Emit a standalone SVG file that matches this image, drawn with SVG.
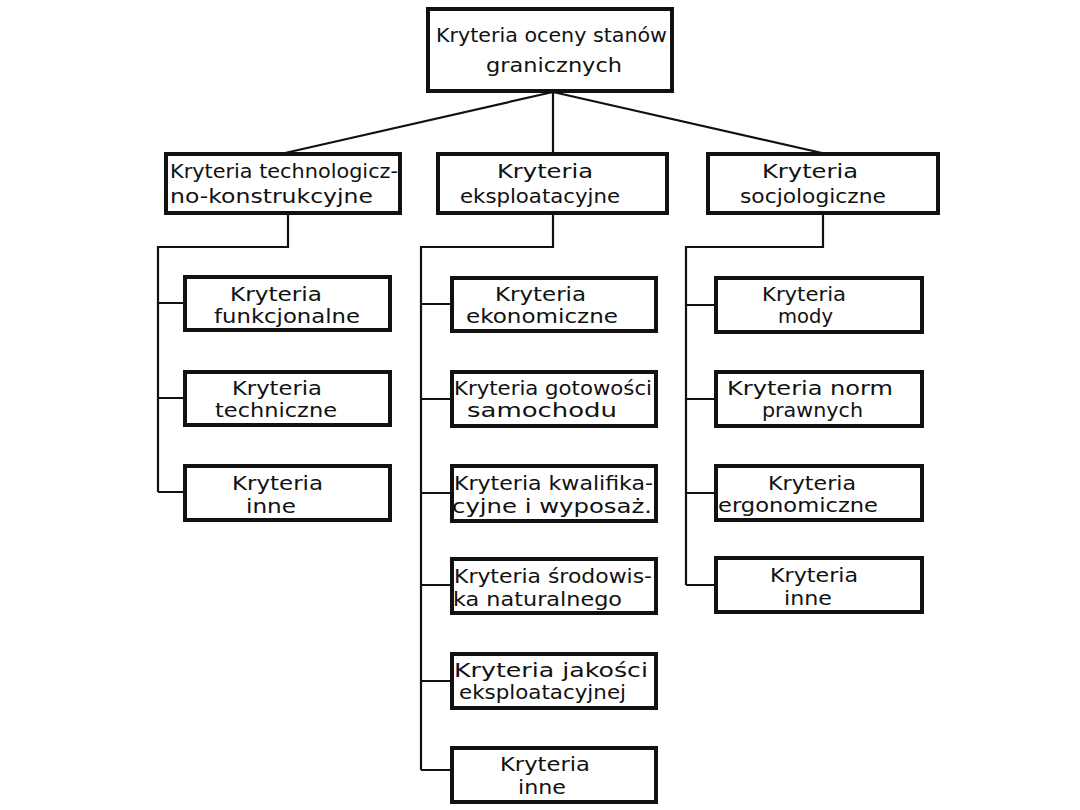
<svg xmlns="http://www.w3.org/2000/svg" width="1080" height="810" viewBox="0 0 1080 810">
<style>
.box{fill:#fff;stroke:#111;stroke-width:4}
.t{font-family:"DejaVu Sans","Liberation Sans",sans-serif;font-size:19px;fill:#111}
.c{fill:none;stroke:#111;stroke-width:2.2}
</style>
<rect width="1080" height="810" fill="#fff"/>
<g id="connectors">
<path class="c" d="M553,92 L285,153 M553,92 L553,153 M553,92 L822,153"/>
<path class="c" d="M288,213 V247 H158 V492 M158,303 H185 M158,398 H185 M158,492 H185"/>
<path class="c" d="M553,213 V247 H421 V770 M421,304 H452 M421,399 H452 M421,493 H452 M421,585 H452 M421,681 H452 M421,770 H452"/>
<path class="c" d="M823,213 V247 H686 V585 M686,305 H716 M686,399 H716 M686,493 H716 M686,585 H716"/>
</g>
<g id="root"><rect class="box" x="428" y="9" width="244" height="82"/>
<text class="t" x="436" y="42" textLength="231" lengthAdjust="spacingAndGlyphs">Kryteria oceny stanów</text><text class="t" x="486" y="72" textLength="136" lengthAdjust="spacingAndGlyphs">granicznych</text></g>
<g id="n-tech"><rect class="box" x="166" y="154" width="234" height="59"/>
<text class="t" x="170" y="178" textLength="228" lengthAdjust="spacingAndGlyphs">Kryteria technologicz-</text><text class="t" x="170" y="203" textLength="203" lengthAdjust="spacingAndGlyphs">no-konstrukcyjne</text></g>
<g id="n-eksp"><rect class="box" x="438" y="154" width="229" height="59"/>
<text class="t" x="497" y="178" textLength="96" lengthAdjust="spacingAndGlyphs">Kryteria</text><text class="t" x="460" y="203" textLength="160" lengthAdjust="spacingAndGlyphs">eksploatacyjne</text></g>
<g id="n-socj"><rect class="box" x="708" y="154" width="230" height="59"/>
<text class="t" x="762" y="178" textLength="96" lengthAdjust="spacingAndGlyphs">Kryteria</text><text class="t" x="740" y="203" textLength="146" lengthAdjust="spacingAndGlyphs">socjologiczne</text></g>

<g id="n-funk"><rect class="box" x="185" y="277" width="205" height="53"/>
<text class="t" x="230" y="301" textLength="92" lengthAdjust="spacingAndGlyphs">Kryteria</text><text class="t" x="214" y="323" textLength="146" lengthAdjust="spacingAndGlyphs">funkcjonalne</text></g>
<g id="n-techn"><rect class="box" x="185" y="372" width="205" height="53"/>
<text class="t" x="232" y="395" textLength="90" lengthAdjust="spacingAndGlyphs">Kryteria</text><text class="t" x="215" y="417" textLength="122" lengthAdjust="spacingAndGlyphs">techniczne</text></g>
<g id="n-inne1"><rect class="box" x="185" y="466" width="205" height="54"/>
<text class="t" x="232" y="490" textLength="91" lengthAdjust="spacingAndGlyphs">Kryteria</text><text class="t" x="246" y="513" textLength="50" lengthAdjust="spacingAndGlyphs">inne</text></g>

<g id="n-ekon"><rect class="box" x="452" y="278" width="204" height="53"/>
<text class="t" x="495" y="301" textLength="91" lengthAdjust="spacingAndGlyphs">Kryteria</text><text class="t" x="466" y="323" textLength="152" lengthAdjust="spacingAndGlyphs">ekonomiczne</text></g>
<g id="n-got"><rect class="box" x="452" y="372" width="204" height="54"/>
<text class="t" x="454" y="395" textLength="198" lengthAdjust="spacingAndGlyphs">Kryteria gotowości</text><text class="t" x="467" y="417" textLength="150" lengthAdjust="spacingAndGlyphs">samochodu</text></g>
<g id="n-kwal"><rect class="box" x="452" y="466" width="204" height="55"/>
<text class="t" x="454" y="490" textLength="199" lengthAdjust="spacingAndGlyphs">Kryteria kwalifika-</text><text class="t" x="452" y="513" textLength="200" lengthAdjust="spacingAndGlyphs">cyjne i wyposaż.</text></g>
<g id="n-srod"><rect class="box" x="452" y="559" width="204" height="54"/>
<text class="t" x="454" y="583" textLength="198" lengthAdjust="spacingAndGlyphs">Kryteria środowis-</text><text class="t" x="453" y="606" textLength="169" lengthAdjust="spacingAndGlyphs">ka naturalnego</text></g>
<g id="n-jak"><rect class="box" x="452" y="654" width="204" height="54"/>
<text class="t" x="454" y="677" textLength="194" lengthAdjust="spacingAndGlyphs">Kryteria  jakości</text><text class="t" x="459" y="699" textLength="167" lengthAdjust="spacingAndGlyphs">eksploatacyjnej</text></g>
<g id="n-inne2"><rect class="box" x="452" y="748" width="204" height="54"/>
<text class="t" x="500" y="771" textLength="90" lengthAdjust="spacingAndGlyphs">Kryteria</text><text class="t" x="518" y="794" textLength="48" lengthAdjust="spacingAndGlyphs">inne</text></g>

<g id="n-mody"><rect class="box" x="716" y="278" width="206" height="54"/>
<text class="t" x="762" y="301" textLength="84" lengthAdjust="spacingAndGlyphs">Kryteria</text><text class="t" x="778" y="323" textLength="55" lengthAdjust="spacingAndGlyphs">mody</text></g>
<g id="n-norm"><rect class="box" x="716" y="372" width="206" height="54"/>
<text class="t" x="727" y="395" textLength="166" lengthAdjust="spacingAndGlyphs">Kryteria  norm</text><text class="t" x="762" y="417" textLength="101" lengthAdjust="spacingAndGlyphs">prawnych</text></g>
<g id="n-ergo"><rect class="box" x="716" y="466" width="206" height="54"/>
<text class="t" x="768" y="490" textLength="88" lengthAdjust="spacingAndGlyphs">Kryteria</text><text class="t" x="718" y="512" textLength="160" lengthAdjust="spacingAndGlyphs">ergonomiczne</text></g>
<g id="n-inne3"><rect class="box" x="716" y="558" width="206" height="54"/>
<text class="t" x="770" y="582" textLength="88" lengthAdjust="spacingAndGlyphs">Kryteria</text><text class="t" x="784" y="605" textLength="48" lengthAdjust="spacingAndGlyphs">inne</text></g>
</svg>
